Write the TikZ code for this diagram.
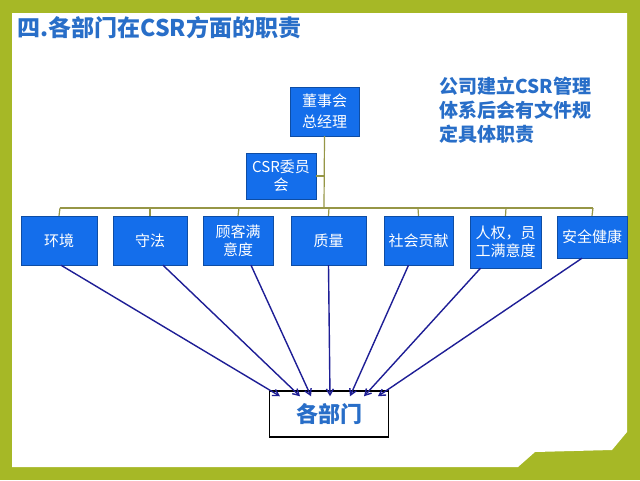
\documentclass[tikz,border=0pt]{standalone}
\usepackage{fontspec}
\usetikzlibrary{arrows.meta}
\setmainfont{Noto Sans CJK SC}
\definecolor{olive}{RGB}{166,184,38}
\definecolor{boxblue}{RGB}{20,110,235}
\definecolor{titleblue}{RGB}{40,110,200}
\definecolor{tree}{RGB}{150,150,70}
\definecolor{arr}{RGB}{30,30,150}
\begin{document}
\begin{tikzpicture}[x=1pt,y=-1pt,
 bx/.style={draw=boxblue!70!black,fill=boxblue,text=white,inner sep=1pt,align=center,font=\fontsize{15}{18}\selectfont},
 tl/.style={draw=tree,line width=1.2pt},
 ar/.style={draw=arr,line width=1.4pt,-{Straight Barb[length=6pt,width=7pt]}}]
\useasboundingbox (0,0) rectangle (640,480);
\fill[olive] (0,0) rectangle (640,480);
\fill[white] (12,13) -- (627,13) -- (627,432) -- (612,450) -- (535,452) -- (518,467) -- (12,467) -- cycle;
\node[anchor=west,text=titleblue,font=\fontsize{23}{25}\selectfont\bfseries] (title) at (14,28) {四.各部门在CSR方面的职责};
\node[anchor=north west,text=titleblue,align=left,font=\fontsize{19}{24}\selectfont\bfseries] (note) at (436,73) {公司建立CSR管理\\体系后会有文件规\\定具体职责};
\node[bx,minimum width=69pt,minimum height=49pt] (top) at (324.5,111.5) {董事会\\[3pt]总经理};
\node[bx,minimum width=70pt,minimum height=46pt] (csr) at (281,176) {CSR委员\\会};
\coordinate (bar) at (324,208);
\coordinate (tick) at (324,176);
\coordinate (bl) at (60,208);
\coordinate (br) at (593,208);
\node[bx,minimum width=76pt,minimum height=49pt] (b1) at (59,240.5) {环境};
\node[bx,minimum width=74pt,minimum height=49pt] (b2) at (150,240.5) {守法};
\node[bx,minimum width=70pt,minimum height=49pt] (b3) at (238,240.5) {顾客满\\意度};
\node[bx,minimum width=75pt,minimum height=49pt] (b4) at (328.5,240.5) {质量};
\node[bx,minimum width=69pt,minimum height=49pt] (b5) at (418.5,240.5) {社会贡献};
\node[bx,minimum width=71pt,minimum height=52pt] (b6) at (505.5,242) {人权，员\\工满意度};
\node[bx,minimum width=70pt,minimum height=42pt] (b7) at (592,237) {安全健康};
\node[draw=black,line width=1.5pt,minimum width=119pt,minimum height=46pt,text=titleblue,font=\fontsize{22}{24}\selectfont\bfseries] (dept) at (329,414) {各部门};
\draw[tl] (top.south) -- (bar);
\draw[tl] (csr.east) -- (tick);
\draw[tl] (bl) -- (br);
\foreach \i/\x in {1/60,2/150,3/239,4/329,5/418,6/506,7/593}
  \draw[tl] (\x,208) -- (b\i.north);
\draw[ar] ([xshift=2pt]b1.south) -- ([xshift=-49pt,yshift=-6pt]dept.north);
\draw[ar] ([xshift=13pt]b2.south) -- ([xshift=-29pt,yshift=-6pt]dept.north);
\draw[ar] ([xshift=13pt]b3.south) -- ([xshift=-18pt,yshift=-6pt]dept.north);
\draw[ar] (b4.south) -- ([xshift=1pt,yshift=-6pt]dept.north);
\draw[ar] ([xshift=-10pt]b5.south) -- ([xshift=21pt,yshift=-6pt]dept.north);
\draw[ar] ([xshift=-25pt]b6.south) -- ([xshift=35pt,yshift=-6pt]dept.north);
\draw[ar] ([xshift=-10pt]b7.south) -- ([xshift=49pt,yshift=-6pt]dept.north);
\end{tikzpicture}
\end{document}
